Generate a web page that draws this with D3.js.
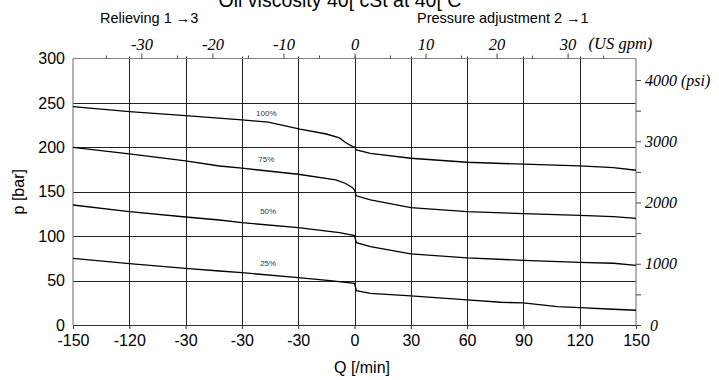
<!DOCTYPE html>
<html>
<head>
<meta charset="utf-8">
<title>Oil viscosity chart</title>
<script src="https://cdnjs.cloudflare.com/ajax/libs/d3/7.8.5/d3.min.js"></script>
<style>
    body { margin: 0; background: #fff; }
    svg { display: block; }
    .sans { font-family: "Liberation Sans", Arial, sans-serif; fill: #000; }
    .serif { font-family: "Liberation Serif", "Times New Roman", serif; font-style: italic; fill: #000; }
</style>
</head>
<body>
<div id="chart"></div>
<script>
// ---- data ----
var qTicks = [-150, -120, -90, -60, -30, 0, 30, 60, 90, 120, 150];
var qTickLabels = ["-150", "-120", "-30", "-30", "-30", "0", "30", "60", "90", "120", "150"];
var pTicks = [0, 50, 100, 150, 200, 250, 300];
var gpmMajor = [-30, -20, -10, 0, 10, 20, 30];
var gpmMinor = [-35, -25, -15, -5, 5, 15, 25, 35];
var psiTicks = [0, 500, 1000, 1500, 2000, 2500, 3000, 3500, 4000];
var psiLabels = {0: "0", 1000: "1000", 2000: "2000", 3000: "3000", 4000: "4000 (psi)"};

// Q [l/min], p [bar]
var curve100 = [[-150, 245.8], [-120, 240.2], [-90, 235.7], [-60, 231], [-46, 228.3], [-29, 220.4],
    [-15, 215], [-8, 210.6], [-5, 205.7], [-1, 200.8], [0, 200.4], [1, 197], [8.5, 193.3], [30, 187.7],
    [60, 183.2], [90, 181], [120, 179.1], [138, 177.2], [150, 174.2]];
var curve75 = [[-150, 200], [-120, 192.6], [-90, 184.7], [-72, 179], [-60, 176.5], [-30, 169.7],
    [-10, 163.3], [-5, 159.6], [-1, 154.6], [0, 152], [1, 145.4], [8.5, 140.8], [30, 132.1],
    [60, 127.6], [90, 125.3], [120, 123.5], [138, 122], [150, 120.1]];
var curve50 = [[-150, 135.1], [-120, 127.6], [-90, 121.6], [-72, 118.2], [-60, 115.2], [-30, 109.6],
    [-8, 103.9], [0, 100.6], [1, 92.7], [8.5, 88.2], [30, 80], [60, 75.5], [90, 72.8], [120, 70.6],
    [138, 69.5], [150, 67.2]];
var curve25 = [[-150, 75.1], [-120, 69], [-90, 63.8], [-72, 60.8], [-60, 58.9], [-30, 53.3],
    [-13, 49.9], [0, 47], [1, 38.6], [8.5, 35.7], [30, 32.7], [60, 28.2], [78, 25.6], [90, 24.8],
    [108, 20.6], [120, 19.5], [135, 18], [150, 16.6]];
var curveNames = ["100%", "75%", "50%", "25%"];
var labelQ = [-47, -47, -46, -46];
var labelP = [238, 186, 127, 68.5];

var LPM_PER_GPM = 3.78541,
    PSI_PER_BAR = 14.5038;

// ---- layout ----
var width = 719,
    height = 380;
var margin = {left: 73, right: 83, top: 58.5, bottom: 55};

var svg = d3.select("#chart").append("svg")
    .attr("width", width)
    .attr("height", height);

var x = d3.scaleLinear().domain([-150, 150]).range([margin.left, width - margin.right]);
var y = d3.scaleLinear().domain([0, 300]).range([height - margin.bottom, margin.top]);
var yPsi = d3.scaleLinear().domain([0, 300 * PSI_PER_BAR]).range(y.range());

// grid
var grid = svg.append("g").attr("stroke", "#222").attr("stroke-width", 1);
grid.selectAll(".hgrid")
    .data(pTicks.filter(function(d) { return d > 0 && d < 300; }))
    .enter().append("line")
    .attr("x1", x(-150)).attr("x2", x(150))
    .attr("y1", function(d) { return Math.round(y(d)) + 0.5; })
    .attr("y2", function(d) { return Math.round(y(d)) + 0.5; });
grid.selectAll(".vgrid")
    .data(qTicks.filter(function(d) { return d > -150 && d < 150; }))
    .enter().append("line")
    .attr("y1", y(300) - 2).attr("y2", y(0))
    .attr("x1", function(d) { return Math.round(x(d)) + 0.5; })
    .attr("x2", function(d) { return Math.round(x(d)) + 0.5; });

// frame
var frame = svg.append("g").attr("stroke", "#808080").attr("stroke-width", 1.2).attr("fill", "none");
frame.append("line").attr("x1", x(-150)).attr("x2", x(-150)).attr("y1", y(300)).attr("y2", y(0));
frame.append("line").attr("x1", x(150)).attr("x2", x(150)).attr("y1", y(300)).attr("y2", y(0));
frame.append("line").attr("x1", x(-150)).attr("x2", x(150)).attr("y1", y(300)).attr("y2", y(300));

// bottom axis (l/min)
var xAxis = svg.append("g")
    .attr("transform", "translate(0," + y(0) + ")")
    .call(d3.axisBottom(x).tickValues(qTicks).tickSize(4).tickPadding(6)
        .tickFormat(function(d, i) { return qTickLabels[i]; }));
xAxis.select(".domain").attr("stroke", "#333");
xAxis.selectAll(".tick line").attr("stroke", "#333");
xAxis.selectAll("text").attr("class", "sans").style("font-size", "16px");

// left axis (bar)
var yAxis = svg.append("g")
    .attr("transform", "translate(" + x(-150) + ",0)")
    .call(d3.axisLeft(y).tickValues(pTicks).tickSize(0).tickPadding(8));
yAxis.select(".domain").remove();
yAxis.selectAll("text").attr("class", "sans").style("font-size", "16px");

// top axis (US gpm)
var gpmScale = d3.scaleLinear().domain([-150 / LPM_PER_GPM, 150 / LPM_PER_GPM]).range(x.range());
var topMinor = svg.append("g")
    .attr("transform", "translate(0," + y(300) + ")")
    .call(d3.axisTop(gpmScale).tickValues(gpmMinor).tickSize(3).tickFormat(""));
topMinor.select(".domain").remove();
topMinor.selectAll(".tick line").attr("stroke", "#444");
var topMajor = svg.append("g")
    .attr("transform", "translate(0," + y(300) + ")")
    .call(d3.axisTop(gpmScale).tickValues(gpmMajor).tickSize(5).tickPadding(4)
        .tickFormat(function(d) { return String(d); }));
topMajor.select(".domain").remove();
topMajor.selectAll(".tick line").attr("stroke", "#444");
topMajor.selectAll("text").attr("class", "serif").style("font-size", "16.5px");
svg.append("text").attr("class", "serif")
    .attr("x", gpmScale(30) + 21).attr("y", y(300) - 9.5)
    .style("font-size", "16.5px")
    .text("(US gpm)");

// right axis (psi)
var psiAxis = svg.append("g")
    .attr("transform", "translate(" + x(150) + ",0)")
    .call(d3.axisRight(yPsi).tickValues(psiTicks).tickSize(5).tickPadding(4)
        .tickFormat(function(d) { return psiLabels[d] || ""; }));
psiAxis.select(".domain").remove();
psiAxis.selectAll(".tick line").attr("stroke", "#444");
psiAxis.selectAll("text").attr("class", "serif").style("font-size", "16px")
    .attr("x", function(d) { return d === 0 ? 14 : 9; });

// curves
var line = d3.line()
    .x(function(d) { return x(d[0]); })
    .y(function(d) { return y(d[1]); });

svg.append("g").selectAll("path")
    .data([curve100, curve75, curve50, curve25])
    .enter().append("path")
    .attr("d", line)
    .attr("fill", "none")
    .attr("stroke", "#000")
    .attr("stroke-width", 1.3);

svg.append("g").selectAll("text")
    .data(curveNames)
    .enter().append("text")
    .attr("class", "sans")
    .attr("x", function(d, i) { return x(labelQ[i]); })
    .attr("y", function(d, i) { return y(labelP[i]); })
    .attr("text-anchor", "middle")
    .attr("dominant-baseline", "middle")
    .style("font-size", "8px")
    .style("fill", "#333")
    .text(function(d) { return d; });

// titles
svg.append("text").attr("class", "sans")
    .attr("x", 340).attr("y", 7)
    .attr("text-anchor", "middle")
    .style("font-size", "19.5px")
    .text("Oil viscosity 40[ cSt at 40[ C");
svg.append("text").attr("class", "sans")
    .attr("x", 100).attr("y", 22.5)
    .style("font-size", "14.5px")
    .text("Relieving 1 \u21923");
svg.append("text").attr("class", "sans")
    .attr("x", 417).attr("y", 22.5)
    .style("font-size", "14.5px")
    .text("Pressure adjustment 2 \u21921");

// axis titles
svg.append("text").attr("class", "sans")
    .attr("transform", "translate(20," + y(150) + ") rotate(-90)")
    .attr("text-anchor", "middle")
    .attr("dominant-baseline", "middle")
    .style("font-size", "16px")
    .text("p [bar]");
svg.append("text").attr("class", "sans")
    .attr("x", 362).attr("y", 373)
    .attr("text-anchor", "middle")
    .style("font-size", "16px")
    .text("Q [/min]");
</script>
</body>
</html>
